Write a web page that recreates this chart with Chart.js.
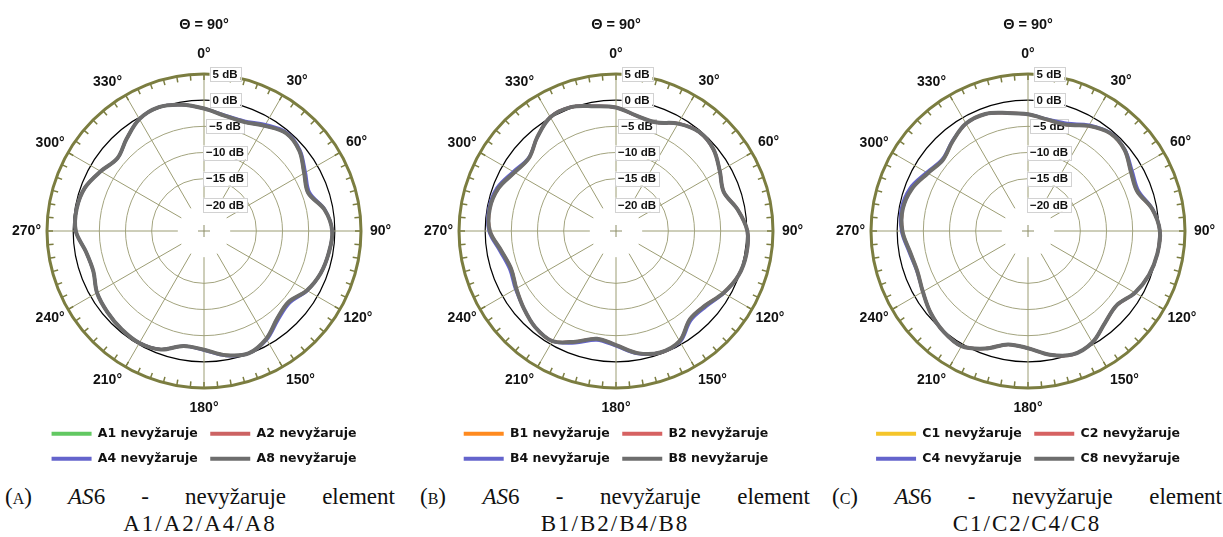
<!DOCTYPE html>
<html>
<head>
<meta charset="utf-8">
<title>AS6 - nevyžaruje element</title>
<script src="https://cdn.jsdelivr.net/npm/chart.js@4.4.1/dist/chart.umd.min.js"></script>
<style>
  html, body { margin: 0; padding: 0; background: #fff; }
  body { width: 1223px; height: 537px; position: relative; overflow: hidden; }
  canvas.polar { position: absolute; top: 0; }
  .cap { position: absolute; top: 483px; width: 390px; font-family: 'Liberation Serif', 'DejaVu Serif', serif;
         font-size: 23px; line-height: 27px; color: #111; }
  .cap .l1 { display: flex; justify-content: space-between; }
  .cap .l2 { text-align: center; letter-spacing: 2px; }
  .sc { font-variant: small-caps; }
</style>
</head>
<body>
<canvas id="chartA" class="polar" width="440" height="475" style="left:-16px"></canvas>
<canvas id="chartB" class="polar" width="440" height="475" style="left:396px"></canvas>
<canvas id="chartC" class="polar" width="440" height="475" style="left:808px"></canvas>

<div class="cap" style="left:5px">
  <div class="l1"><span>(<span class="sc">a</span>)</span><span><i>AS</i>6</span><span>-</span><span>nevyžaruje</span><span>element</span></div>
  <div class="l2">A1/A2/A4/A8</div>
</div>
<div class="cap" style="left:420px">
  <div class="l1"><span>(<span class="sc">b</span>)</span><span><i>AS</i>6</span><span>-</span><span>nevyžaruje</span><span>element</span></div>
  <div class="l2">B1/B2/B4/B8</div>
</div>
<div class="cap" style="left:832px">
  <div class="l1"><span>(<span class="sc">c</span>)</span><span><i>AS</i>6</span><span>-</span><span>nevyžaruje</span><span>element</span></div>
  <div class="l2">C1/C2/C4/C8</div>
</div>

<script>
// angle categories, degrees clockwise from the top
const angles = [0, 10, 20, 30, 40, 50, 60, 70, 80, 90, 100, 110, 120, 130, 140, 150, 160, 170,
                180, 190, 200, 210, 220, 230, 240, 250, 260, 270, 280, 290, 300, 310, 320, 330, 340, 350];
// radial tick labels (dB)
const dbTicks = [-20, -15, -10, -5, 0, 5];

// panel A (dB, one value per angle)
const a1 = [-1.6, -2.6, -2.8, -1.8, -0.6, -1.2, -2.9, -3.8, -1.6, -0.5, -0.8, -1.3, -2.3, -3.9, -3.2, -1.2, -0.1, -0.9,
            -2.3, -2.7, -0.9, -0.3, -0.5, -0.9, -1.4, -2.5, -2.1, -0.5, -0.3, -0.8, -2.2, -3.4, -2.0, -0.3, 0.2, -0.5];
const a2 = [-1.6, -2.6, -2.8, -1.8, -0.6, -1.2, -2.9, -3.8, -1.6, -0.5, -0.8, -1.3, -2.3, -3.9, -3.2, -1.2, -0.1, -0.9,
            -2.3, -2.7, -0.9, -0.3, -0.5, -0.9, -1.4, -2.5, -2.1, -0.5, -0.3, -0.8, -2.2, -3.4, -2.0, -0.3, 0.2, -0.5];
const a4 = [-1.6, -2.5, -2.6, -1.5, -0.4, -1.0, -2.6, -3.5, -1.5, -0.5, -0.8, -1.3, -2.2, -3.6, -2.9, -1.0, -0.1, -0.8,
            -2.2, -2.7, -0.9, -0.3, -0.5, -0.9, -1.4, -2.5, -2.1, -0.5, -0.3, -0.8, -2.2, -3.4, -2.0, -0.3, 0.2, -0.5];
const a8 = [-1.6, -2.6, -2.8, -1.8, -0.6, -1.2, -2.9, -3.8, -1.6, -0.5, -0.8, -1.3, -2.3, -3.9, -3.2, -1.2, -0.1, -0.9,
            -2.3, -2.7, -0.9, -0.3, -0.5, -0.9, -1.4, -2.5, -2.1, -0.5, -0.3, -0.8, -2.2, -3.4, -2.0, -0.3, 0.2, -0.5];

// panel B
const b1 = [-1.4, -2.6, -2.9, -1.3, -0.3, -0.7, -2.1, -3.1, -1.4, 0.1, 0.3, -0.1, -1.3, -2.8, -3.0, -0.7, -0.3, -1.3,
            -3.2, -4.1, -2.5, -0.7, -1.0, -2.0, -3.0, -3.7, -2.8, -0.9, -0.5, -1.1, -2.6, -3.3, -1.6, 0.1, 0.2, -0.8];
const b2 = [-1.4, -2.6, -2.9, -1.3, -0.3, -0.7, -2.1, -3.1, -1.4, 0.1, 0.3, -0.1, -1.3, -2.8, -3.0, -0.7, -0.3, -1.3,
            -3.2, -4.1, -2.5, -0.7, -1.0, -2.0, -3.0, -3.7, -2.8, -0.9, -0.5, -1.1, -2.6, -3.3, -1.6, 0.1, 0.2, -0.8];
const b4 = [-1.4, -2.6, -2.9, -1.3, -0.3, -0.7, -2.1, -3.1, -1.4, 0.1, 0.3, -0.1, -1.2, -2.5, -2.7, -0.5, -0.3, -1.2,
            -3.0, -3.8, -2.2, -0.7, -1.0, -2.0, -2.8, -3.4, -2.5, -0.7, -0.3, -0.8, -2.3, -3.2, -1.6, 0.1, 0.2, -0.8];
const b8 = [-1.4, -2.6, -2.9, -1.3, -0.3, -0.7, -2.1, -3.1, -1.4, 0.1, 0.3, -0.1, -1.3, -2.8, -3.0, -0.7, -0.3, -1.3,
            -3.2, -4.1, -2.5, -0.7, -1.0, -2.0, -3.0, -3.7, -2.8, -0.9, -0.5, -1.1, -2.6, -3.3, -1.6, 0.1, 0.2, -0.8];

// panel C
const c1 = [-2.7, -3.4, -3.4, -1.8, -0.6, -0.9, -2.3, -2.8, -0.9, 0.2, 0.1, -0.4, -1.4, -2.9, -2.1, -0.4, 0.1, -1.0,
            -2.6, -3.0, -1.1, 0.4, 0.1, -0.7, -1.8, -2.5, -2.1, -1.0, -0.7, -1.4, -2.9, -3.8, -2.6, -1.3, -1.2, -2.1];
const c2 = [-2.7, -3.4, -3.4, -1.8, -0.6, -0.9, -2.3, -2.8, -0.9, 0.2, 0.1, -0.4, -1.4, -2.9, -2.1, -0.4, 0.1, -1.0,
            -2.6, -3.0, -1.1, 0.4, 0.1, -0.7, -1.8, -2.5, -2.1, -1.0, -0.7, -1.4, -2.9, -3.8, -2.6, -1.3, -1.2, -2.1];
const c4 = [-2.7, -3.3, -3.1, -1.6, -0.5, -0.8, -2.0, -2.5, -0.8, 0.2, 0.1, -0.4, -1.4, -2.9, -2.1, -0.4, 0.1, -1.0,
            -2.6, -3.0, -1.1, 0.4, 0.1, -0.7, -1.8, -2.4, -1.9, -0.8, -0.4, -1.0, -2.6, -3.6, -2.5, -1.3, -1.2, -2.1];
const c8 = [-2.7, -3.4, -3.4, -1.8, -0.6, -0.9, -2.3, -2.8, -0.9, 0.2, 0.1, -0.4, -1.4, -2.9, -2.1, -0.4, 0.1, -1.0,
            -2.6, -3.0, -1.1, 0.4, 0.1, -0.7, -1.8, -2.5, -2.1, -1.0, -0.7, -1.4, -2.9, -3.8, -2.6, -1.3, -1.2, -2.1];

const sansFont = '"Liberation Sans", Arial, sans-serif';
const olive = '#7b7d40';
const gridOlive = '#a3a47f';

// distance of the angle label from the ring, so label centres sit on one circle
const labelPad = {0: 13, 30: 8, 60: 7, 90: 9, 120: 4, 150: 7, 180: 13, 210: 7, 240: 4, 270: 6, 300: 4, 330: 7};

function fmtDb(v) {
    return (v < 0 ? '\u2212' + Math.abs(v) : String(v)) + ' dB';
}

// spokes, ring ticks, centre cross and the boxed dB labels
const polarDecor = {
    id: 'polarDecor',
    beforeDatasetsDraw(chart) {
        const s = chart.scales.r;
        const ctx = chart.ctx;
        const half = Math.PI / angles.length;
        const rIn = s.getDistanceFromCenterForValue(-20);
        const rOut = s.getDistanceFromCenterForValue(5);
        ctx.save();

        ctx.strokeStyle = '#9c9d74';
        ctx.lineWidth = 1;
        angles.forEach(function (a, i) {
            if (a % 30 !== 0) return;
            const p1 = s.getPointPosition(i, rIn);
            const p2 = s.getPointPosition(i, rOut);
            ctx.beginPath();
            ctx.moveTo(p1.x, p1.y);
            ctx.lineTo(p2.x, p2.y);
            ctx.stroke();
        });

        ctx.strokeStyle = olive;
        ctx.lineWidth = 1.5;
        angles.forEach(function (a, i) {
            [0, half].forEach(function (extra) {
                const p1 = s.getPointPosition(i, rOut, extra);
                const p2 = s.getPointPosition(i, rOut - 6, extra);
                ctx.beginPath();
                ctx.moveTo(p1.x, p1.y);
                ctx.lineTo(p2.x, p2.y);
                ctx.stroke();
            });
        });

        // small cross in the centre
        ctx.strokeStyle = '#8c8d66';
        ctx.lineWidth = 1;
        ctx.beginPath();
        ctx.moveTo(s.xCenter - 6, s.yCenter);
        ctx.lineTo(s.xCenter + 6, s.yCenter);
        ctx.moveTo(s.xCenter, s.yCenter - 6);
        ctx.lineTo(s.xCenter, s.yCenter + 6);
        ctx.stroke();

        ctx.font = 'bold 11.5px ' + sansFont;
        ctx.textAlign = 'center';
        ctx.textBaseline = 'middle';
        dbTicks.forEach(function (v) {
            const txt = fmtDb(v);
            const y = s.yCenter - s.getDistanceFromCenterForValue(v);
            const x = s.xCenter + 21;
            const w = ctx.measureText(txt).width + 6;
            ctx.fillStyle = '#fff';
            ctx.fillRect(x - w / 2, y - 7, w, 14);
            ctx.strokeStyle = '#d2d2d2';
            ctx.lineWidth = 1;
            ctx.strokeRect(Math.round(x - w / 2) + 0.5, Math.round(y - 7) + 0.5, Math.round(w), 14);
            ctx.fillStyle = '#111';
            ctx.fillText(txt, x, y + 0.5);
        });
        ctx.restore();
    }
};

function makeDatasets(names, series, colors) {
    return series.map(function (vals, k) {
        return {
            label: names[k],
            data: vals,
            borderColor: colors[k],
            backgroundColor: colors[k],
            borderWidth: k === 3 ? 4 : 3,
            fill: false,
            pointRadius: 0,
            pointHitRadius: 0,
            tension: 0.35,
            order: 3 - k
        };
    });
}

function drawPanel(id, names, series, colors) {
    new Chart(document.getElementById(id), {
        type: 'radar',
        data: {
            labels: angles.map(function (a) { return a + '°'; }),
            datasets: makeDatasets(names, series, colors)
        },
        options: {
            responsive: false,
            animation: false,
            devicePixelRatio: 1,
            layout: { padding: 0 },
            scales: {
                r: {
                    min: -25,
                    max: 5,
                    ticks: { display: false, stepSize: 5 },
                    angleLines: { display: false },
                    grid: {
                        circular: true,
                        color: function (c) {
                            const v = c.tick.value;
                            if (v === 5) return olive;
                            if (v === 0) return '#000';
                            if (v <= -20) return 'rgba(0,0,0,0)';
                            return gridOlive;
                        },
                        lineWidth: function (c) {
                            const v = c.tick.value;
                            if (v === 5) return 3;
                            if (v === 0) return 1.2;
                            if (v <= -20) return 0;
                            return 1;
                        }
                    },
                    pointLabels: {
                        color: '#111',
                        font: { family: sansFont, size: 14, weight: 'bold', lineHeight: 1 },
                        padding: function (c) {
                            const a = angles[c.index];
                            return labelPad[a] !== undefined ? labelPad[a] : 8;
                        },
                        callback: function (label, i) {
                            return angles[i] % 30 === 0 ? label : '';
                        }
                    }
                }
            },
            plugins: {
                title: {
                    display: true,
                    text: 'Θ = 90°',
                    color: '#111',
                    font: { family: sansFont, size: 14.5, weight: 'bold' },
                    padding: { top: 16, bottom: 13.6 }
                },
                legend: {
                    position: 'bottom',
                    labels: {
                        boxWidth: 40,
                        boxHeight: 4,
                        padding: 12.5,
                        color: '#111',
                        font: { family: '"DejaVu Sans", Verdana, sans-serif', size: 12.5, weight: 'bold' },
                        sort: function (a, b) { return a.datasetIndex - b.datasetIndex; },
                        generateLabels: function (chart) {
                            return Chart.defaults.plugins.legend.labels.generateLabels(chart).map(function (it) {
                                it.lineWidth = 0;
                                return it;
                            });
                        }
                    }
                },
                tooltip: { enabled: false }
            }
        },
        plugins: [polarDecor]
    });
}

drawPanel('chartA', ['A1 nevyžaruje', 'A2 nevyžaruje', 'A4 nevyžaruje', 'A8 nevyžaruje'],
          [a1, a2, a4, a8], ['#62c862', '#cc6363', '#6464cc', '#6d6d6d']);
drawPanel('chartB', ['B1 nevyžaruje', 'B2 nevyžaruje', 'B4 nevyžaruje', 'B8 nevyžaruje'],
          [b1, b2, b4, b8], ['#ff8a1f', '#d66262', '#6464cc', '#6d6d6d']);
drawPanel('chartC', ['C1 nevyžaruje', 'C2 nevyžaruje', 'C4 nevyžaruje', 'C8 nevyžaruje'],
          [c1, c2, c4, c8], ['#f5c52a', '#d66262', '#6464cc', '#6d6d6d']);
</script>
</body>
</html>
